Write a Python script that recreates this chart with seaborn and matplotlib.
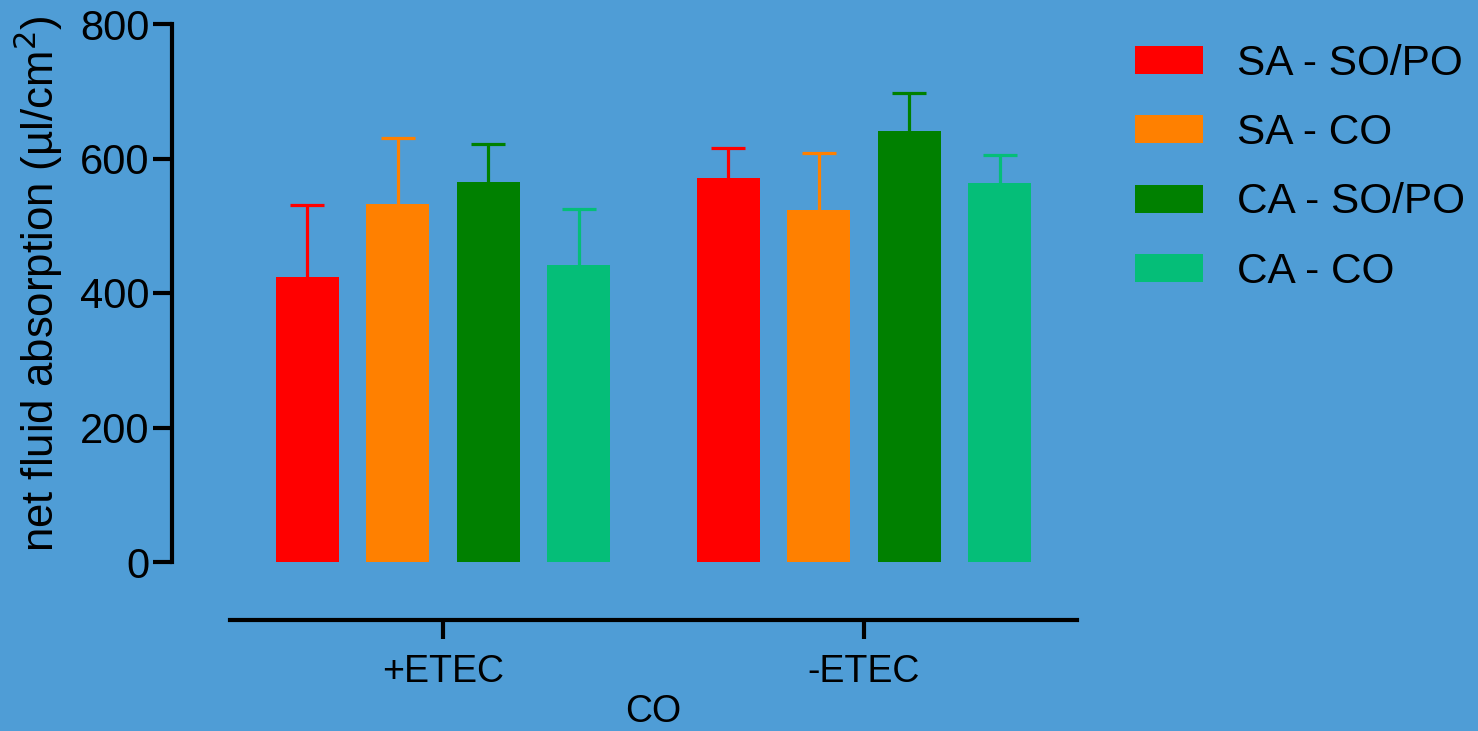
import numpy as np
import pandas as pd
import matplotlib
matplotlib.use("Agg")
import matplotlib.pyplot as plt
import seaborn as sns

# data
conditions = ["+ETEC", "-ETEC"]
groups = ["SA - SO/PO", "SA - CO", "CA - SO/PO", "CA - CO"]
means = {
    "SA - SO/PO": [424, 571],
    "SA - CO": [533, 523],
    "CA - SO/PO": [565, 641],
    "CA - CO": [441, 563],
}
errs = {
    "SA - SO/PO": [107, 44],
    "SA - CO": [98, 85],
    "CA - SO/PO": [57, 57],
    "CA - CO": [84, 42],
}
colors = ["#FF0000", "#FF8000", "#008000", "#05BE78"]
bg = "#4F9DD6"

rows = []
for g in groups:
    for i, c in enumerate(conditions):
        rows.append({"cond": c, "group": g, "value": means[g][i], "err": errs[g][i]})
df = pd.DataFrame(rows)

sns.set_style("ticks")
plt.rcParams['font.family'] = ['Liberation Sans', 'DejaVu Sans']
plt.rcParams['text.color'] = 'black'
plt.rcParams['axes.labelcolor'] = 'black'
plt.rcParams['xtick.color'] = 'black'
plt.rcParams['ytick.color'] = 'black'
plt.rcParams['axes.edgecolor'] = 'black'

fig = plt.figure(figsize=(14.78, 7.31), dpi=100, facecolor=bg)
ax = fig.add_axes([230/1478, 1-562/731, (1077-230)/1478, (562-24)/731])
ax.set_facecolor(bg)

sns.barplot(data=df, x="cond", y="value", hue="group", order=conditions,
            hue_order=groups, palette=colors, width=0.86, gap=0.3,
            errorbar=None, saturation=1, linewidth=0, ax=ax)

# upper error bars only (no cap at the bar top)
bar_containers = list(ax.containers)
for gi, cont in enumerate(bar_containers):
    g = groups[gi]
    for ci, bar in enumerate(cont):
        x = bar.get_x() + bar.get_width() / 2
        eb = ax.errorbar(x, bar.get_height(), yerr=[[0], [errs[g][ci]]], fmt="none",
                         ecolor=colors[gi], elinewidth=2.3, capsize=12, capthick=2.3,
                         zorder=0.5)
        eb[1][0].set_visible(False)

ax.set_xlim(-0.506, 1.506)
ax.set_ylim(0, 800)
ax.set_yticks([0, 200, 400, 600, 800])
ax.tick_params(axis="y", labelsize=30, length=14, width=3, pad=2)
ax.tick_params(axis="x", labelsize=27, length=14, width=3, pad=10)

for s in ["top", "right"]:
    ax.spines[s].set_visible(False)
ax.spines["left"].set_position(("outward", 42))
ax.spines["bottom"].set_position(("outward", 42))
ax.spines["left"].set_linewidth(3)
ax.spines["bottom"].set_linewidth(3)

ax.set_ylabel("net fluid absorption (µl/cm$^2$)", fontsize=31.5)
ax.yaxis.set_label_coords(-0.195, 0.517)
ax.set_xlabel("CO", fontsize=27, labelpad=3)

handles, labels = ax.get_legend_handles_labels()
ax.legend(handles, labels, loc="upper left", bbox_to_anchor=(1118/1478, 1-27/731),
          bbox_transform=fig.transFigure, frameon=False, fontsize=30.5,
          handlelength=1.6, handleheight=0.64, handletextpad=0.82,
          labelspacing=0.69, borderaxespad=0)

fig.savefig("out.png", dpi=100, facecolor=bg)
